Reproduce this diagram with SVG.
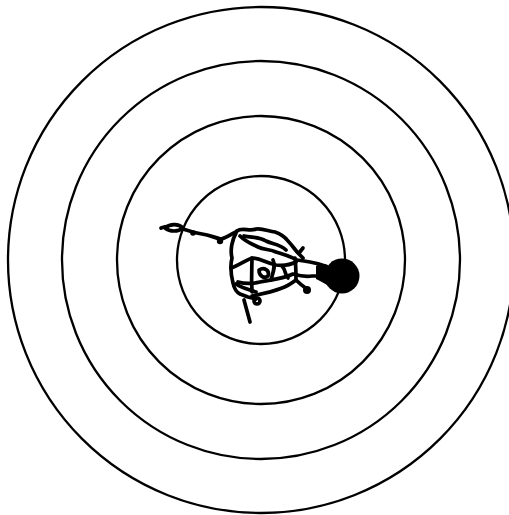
<svg xmlns="http://www.w3.org/2000/svg" width="509" height="515" viewBox="0 0 509 515">
<style>
.ring{fill:none;stroke:#000;stroke-width:2.3}
.walk{fill:none;stroke:#000;stroke-width:3.7;stroke-linecap:round;stroke-linejoin:round}
.blob{fill:#000}
</style>
<rect width="509" height="515" fill="#fff"/>
<g id="rings">
<circle class="ring" cx="261" cy="260" r="253"/>
<circle class="ring" cx="261" cy="260" r="199"/>
<circle class="ring" cx="261" cy="260" r="144"/>
<circle class="ring" cx="261" cy="260" r="84"/>
</g>
<g id="walk">
<path class="walk" d="M161,228 C166,226 172,226 177,228 L183,229 C189,231 195,233 202,234 C210,235 215,238 221,239 C226,238 230,235 237,231"/>
<path class="walk" style="fill:#fff" d="M165,228 C170,224 178,223 183,228 C178,232 170,232 165,228 Z"/>
<path class="walk" d="M237,231 C242,227 250,232 256,229 C262,228 268,231 275,232 C281,234 285,237 288,241 C292,245 295,250 299,254 L303,258"/>
<path class="walk" d="M299,253 L303,248"/>
<path class="walk" d="M240,236 C246,242 252,244 258,247 C264,250 270,249 276,252 C282,254 290,256 297,260 L304,261 L310,262 C316,263 320,264 325,266"/>
<path class="walk" d="M244,236 C252,238 258,236 266,241 C272,244 280,244 286,250"/>
<path class="walk" d="M236,233 C232,240 230,250 232,258 C230,266 231,275 233,283 C234,288 236,292 240,294 L248,297 L256,299"/>
<circle class="walk" cx="257" cy="301" r="3"/>
<path class="walk" d="M244,300 L250,322"/>
<path class="walk" d="M231,268 C238,266 246,260 252,258 C260,258 266,263 276,265 C284,266 290,265 296,262"/>
<path class="walk" d="M238,282 C245,284 252,284 260,282 C270,280 282,279 293,274 C300,276 306,277 312,276 L322,276"/>
<path class="walk" d="M295,258 C296,266 296,274 296,280 C300,284 304,287 307,289"/>
<path class="walk" d="M252,258 C252,268 251,276 252,292"/>
<path class="walk" d="M273,260 C276,266 273,272 271,280"/>
<path class="walk" d="M252,296 C262,294 272,292 282,288 C288,286 292,283 296,280"/>
<path class="walk" d="M236,284 C242,288 250,290 256,292"/>
<path class="walk" d="M259,270 C264,267 270,270 268,276 C264,279 259,276 259,270 Z"/>
<path class="walk" d="M282,266 C286,270 285,276 288,278"/>
<circle class="blob" cx="307" cy="290" r="4"/>
<circle class="blob" cx="193" cy="233" r="2.8"/>
<circle class="blob" cx="220" cy="241" r="3.2"/>
</g>
<g id="dot">
<circle class="blob" cx="342" cy="276" r="17.5"/>
<path class="blob" d="M328,265 C322,263 318,264 316,266 L316,279 C320,281 324,283 330,287 Z"/>
</g>
</svg>
